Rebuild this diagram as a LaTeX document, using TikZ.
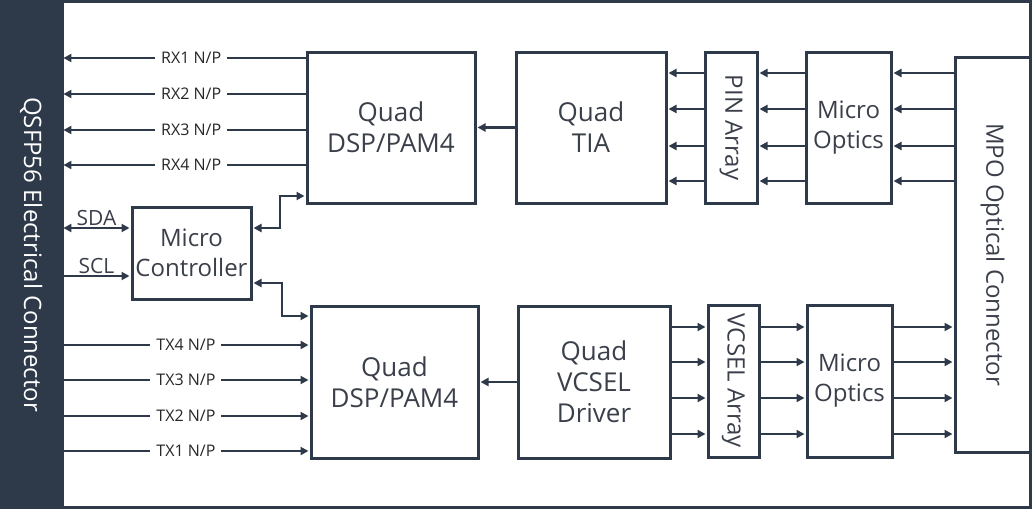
\documentclass[tikz,border=0pt]{standalone}
\usepackage{fontspec}
\setmainfont{Open Sans}
\usetikzlibrary{arrows.meta, positioning}
\definecolor{slate}{HTML}{2E3A4A}
\definecolor{ink}{HTML}{3A3F4A}
\tikzset{
  blk/.style={draw=slate, line width=3pt, align=center, text=ink,
    font=\fontsize{26}{31}\selectfont, inner sep=0pt},
  narrow/.style={font=\fontsize{24}{30}\selectfont},
  vtxt/.style={rotate=-90, text=ink, font=\fontsize{24}{30}\selectfont},
  sig/.style={draw=slate, line width=2.6pt, shorten >=1pt,
    -{Triangle[length=8pt,width=8pt]}},
  bus/.style={sig, shorten <=1pt,
    {Triangle[length=8pt,width=8pt]}-{Triangle[length=8pt,width=8pt]}},
  lbl/.style={fill=white, text=black!85, font=\fontsize{16}{19}\selectfont, inner sep=6pt},
  pin/.style={text=ink, font=\fontsize{21}{24}\selectfont, inner sep=1.5pt},
}

\begin{document}
\begin{tikzpicture}[x=1pt, y=-1pt]
  \useasboundingbox (0,0) rectangle (1032,509);
  % connector band and frame
  \node[fill=slate, minimum width=62pt, minimum height=509pt, inner sep=0pt,
    anchor=north west] (qsfp) at (0,0) {};
  \node[vtxt, white] (qsfptxt) at (qsfp.center) {QSFP56 Electrical Connector};
  \draw[slate, line width=3pt] (62,1.5) rectangle (1030.5,507.5);
  % receive side
  \node[blk, minimum width=168pt, minimum height=151pt] (dsptop) at (391,127.5) {Quad\\DSP/PAM4};
  \node[blk, minimum width=150pt, minimum height=151pt] (tia) at (591,127.5) {Quad\\TIA};
  \node[blk, minimum width=52pt, minimum height=151pt] (pinarr) at (731,127.5) {};
  \node[vtxt] (pintxt) at (pinarr) {PIN Array};
  \node[blk, narrow, minimum width=85pt, minimum height=151pt] (motop) at (848.5,127.5) {Micro\\Optics};
  % optical connector
  \node[blk, minimum width=75pt, minimum height=395pt] (mpo) at (992.5,254.5) {};
  \node[vtxt] (mpotxt) at (mpo) {MPO Optical Connector};
  % controller
  \node[blk, narrow, minimum width=119pt, minimum height=92pt] (mc) at (191.5,253) {Micro\\Controller};
  % transmit side
  \node[blk, minimum width=167pt, minimum height=152pt] (dspbot) at (394.5,382) {Quad\\DSP/PAM4};
  \node[blk, minimum width=152pt, minimum height=152pt] (driver) at (594,382) {Quad\\VCSEL\\Driver};
  \node[blk, minimum width=51pt, minimum height=152pt] (vcsel) at (733.5,381) {};
  \node[vtxt] (vcseltxt) at (vcsel) {VCSEL Array};
  \node[blk, narrow, minimum width=85pt, minimum height=152pt] (mobot) at (849.5,381) {Micro\\Optics};
  % optical lanes
  \foreach \y in {73,109,146,181} {
    \draw[sig] (mpo.west |- 0,\y) -- (motop.east |- 0,\y);
    \draw[sig] (motop.west |- 0,\y) -- (pinarr.east |- 0,\y);
    \draw[sig] (pinarr.west |- 0,\y) -- (tia.east |- 0,\y);
  }
  \foreach \y in {327,362,398,434} {
    \draw[sig] (driver.east |- 0,\y) -- (vcsel.west |- 0,\y);
    \draw[sig] (vcsel.east |- 0,\y) -- (mobot.west |- 0,\y);
    \draw[sig] (mobot.east |- 0,\y) -- (mpo.west |- 0,\y);
  }
  \draw[sig] (tia.west) -- (dsptop.east);
  \draw[sig] (driver.west) -- (dspbot.east);
  % electrical lanes
  \foreach \y/\n in {58/1,94/2,130/3,165/4}
    \draw[sig] (dsptop.west |- 0,\y) -- node[lbl, pos=0.47]{RX\n\ N/P} (qsfp.east |- 0,\y);
  \foreach \y/\n in {345/4,380/3,416/2,451/1}
    \draw[sig] (qsfp.east |- 0,\y) -- node[lbl]{TX\n\ N/P} (dspbot.west |- 0,\y);
  % management bus
  \draw[bus] (qsfp.east |- 0,228) -- node[pin, above]{SDA} (mc.west |- 0,228);
  \draw[sig] (qsfp.east |- 0,276) -- node[pin, above]{SCL} (mc.west |- 0,276);
  \draw[bus] (mc.east |- 0,228) -- (280,228) |- (dsptop.west |- 0,196);
  \draw[bus] (mc.east |- 0,283) -- (282,283) |- (dspbot.west |- 0,316);
\end{tikzpicture}
\end{document}
